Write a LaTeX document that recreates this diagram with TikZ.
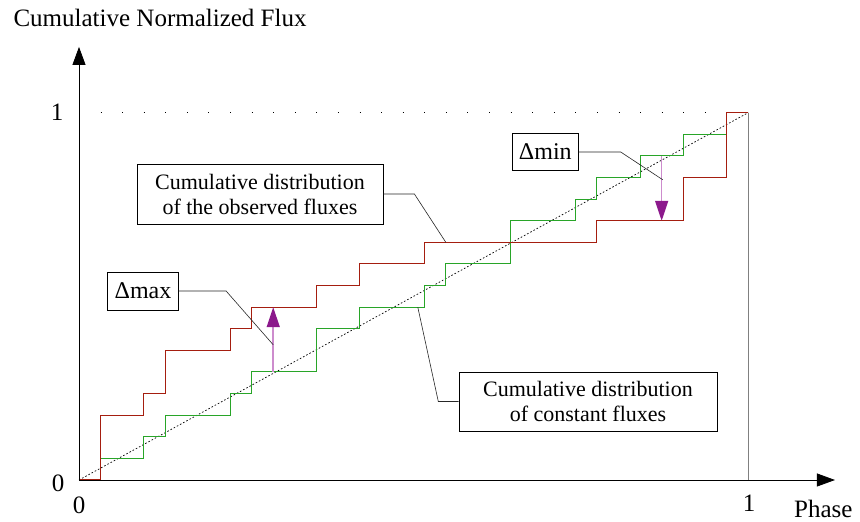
\documentclass[tikz,border=0pt]{standalone}
\usepackage{fontspec}
\setmainfont{Liberation Serif}
\usetikzlibrary{arrows.meta, positioning}
\definecolor{obsred}{RGB}{165,30,15}
\definecolor{constgreen}{RGB}{40,165,40}
\definecolor{deltadark}{RGB}{140,25,140}
\definecolor{deltalight}{RGB}{205,140,205}
\tikzset{
  labelbox/.style={draw, line width=0.8pt, align=center, inner sep=0pt, font=\fontsize{22}{25}\selectfont},
  deltabox/.style={draw, line width=0.8pt, inner sep=0pt, font=\fontsize{24}{26}\selectfont},
  leader/.style={line width=0.6pt, black!85},
  axis/.style={line width=0.8pt, -{Triangle[length=18pt,width=13pt]}},
  deltaarrow/.style={deltalight, line width=1.5pt, -{Triangle[length=20pt,width=13pt,color=deltadark]}},
}

\begin{document}
\begin{tikzpicture}[x=1pt, y=1pt, font=\fontsize{25}{28}\selectfont]
\useasboundingbox (0,0) rectangle (860,522);

%Plot area, one unit is one step
\begin{scope}[shift={(79,42)}, x=21.58pt, y=21.6pt]
  \coordinate (O) at (0,0);
  \coordinate (xend) at (35.03,0);
  \coordinate (yend) at (0,20.05);
  \coordinate (top) at (31,17);
  \coordinate (topleft) at (0,17);
  \coordinate (oneph) at (31,0);

  %level 1 and phase 1
  \draw[dash pattern=on 1pt off 20.58pt, line width=0.8pt] (topleft) -- (top);
  \draw[gray, line width=0.9pt] (top) -- (oneph);
  %diagonal of the constant source
  \draw[dash pattern=on 1.6pt off 2pt, line width=0.7pt] (O) -- (top);

  %constant fluxes
  \draw[constgreen, line width=1pt] (1,0) -- (1,1) -- (3,1) -- (3,2) -- (4,2) -- (4,3) -- (7,3) -- (7,4)
    -- (8,4) -- (8,5) -- (11,5) -- (11,7) -- (13,7) -- (13,8) -- (16,8) -- (16,9) -- (17,9) -- (17,10)
    -- (20,10) -- (20,12) -- (23,12) -- (23,13) -- (24,13) -- (24,14) -- (26,14) -- (26,15) -- (28,15)
    -- (28,16) -- (30,16) -- (30,17) -- (31,17);
  %observed fluxes
  \draw[obsred, line width=1pt] (O) -- (1,0) -- (1,3) -- (3,3) -- (3,4) -- (4,4) -- (4,6) -- (7,6) -- (7,7)
    -- (8,7) -- (8,8) -- (11,8) -- (11,9) -- (13,9) -- (13,10) -- (16,10) -- (16,11) -- (24,11)
    -- (24,12) -- (28,12) -- (28,14) -- (30,14) -- (30,17) -- (31,17);

  %axes
  \draw[axis] (O) -- (xend);
  \draw[axis] (O) -- (yend);

  %deviations
  \coordinate (maxlow) at (9,5);
  \coordinate (maxhigh) at (9,8);
  \coordinate (minhigh) at (27,15);
  \coordinate (minlow) at (27,12);
  \draw[deltaarrow] (maxlow) -- (maxhigh);
  \draw[deltaarrow] (minhigh) -- (minlow);

  %leader ends
  \coordinate (obsend) at (17,11);
  \coordinate (constend) at (15.7,8);
  \coordinate (maxend) at (9,6.26);
  \coordinate (minend) at (27.05,13.9);
\end{scope}

%axis labels
\node[anchor=base west] (ylabel) at (10,495) {Cumulative Normalized Flux};
\node[anchor=base east] (xlabel) at (856,4) {Phase};
\node (yzero) at (58,39) {0};
\node (xzero) at (79,17) {0};
\node (yone) at (57,410) {1};
\node (xone) at (749,19) {1};

%boxes
\node[labelbox, minimum width=246pt, minimum height=60pt] (obsbox) at (260,328)
  {Cumulative distribution\\of the observed fluxes};
\node[labelbox, minimum width=258pt, minimum height=59pt] (constbox) at (588,120.5)
  {Cumulative distribution\\of constant fluxes};
\node[deltabox, minimum width=70.6pt, minimum height=38pt] (maxbox) at (143,231) {Δmax};
\node[deltabox, minimum width=66pt, minimum height=37pt] (minbox) at (545.3,370) {Δmin};

%leaders
\draw[leader] (obsbox.east) -- ++(31,0) -- (obsend);
\draw[leader] (constbox.west) -- ++(-20.3,0) -- (constend);
\draw[leader] (maxbox.east) -- ++(47.4,0) -- (maxend);
\draw[leader] (minbox.east) -- ++(42,0) -- (minend);

\end{tikzpicture}
\end{document}
